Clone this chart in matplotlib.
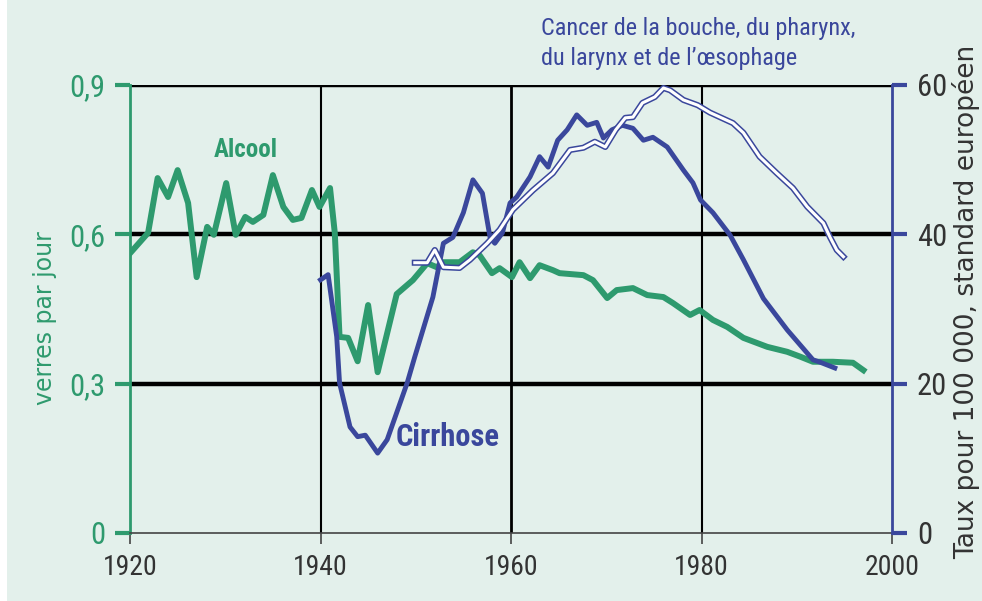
import matplotlib
matplotlib.use("Agg")
import matplotlib.pyplot as plt
from matplotlib.patches import Rectangle
from matplotlib import font_manager

# Alcool (verres par jour, axe gauche)
alcool_annees = [1920, 1921.9, 1922.9, 1924.0, 1925.0, 1926.1, 1927.0, 1928.1, 1928.8, 1930.1,
                 1931.1, 1932.1, 1932.9, 1934.0, 1935.0, 1936.1, 1937.1, 1938.0, 1939.1, 1939.9,
                 1941.0, 1941.5, 1942.0, 1942.9, 1943.9, 1945.0, 1946.0, 1948.0, 1949.7, 1951.2,
                 1952.2, 1952.9, 1954.6, 1956.0, 1956.7, 1958.0, 1958.8, 1960.1, 1960.9, 1962.0,
                 1963.0, 1964.4, 1965.1, 1967.6, 1968.6, 1970.1, 1971.1, 1972.8, 1974.3, 1976.0,
                 1977.0, 1978.8, 1979.8, 1981.2, 1982.7, 1984.4, 1986.9, 1989.0, 1990.4, 1991.7,
                 1993.8, 1995.9, 1997.0]
alcool_valeurs = [0.562, 0.603, 0.713, 0.675, 0.729, 0.663, 0.514, 0.615, 0.599, 0.703,
                  0.599, 0.635, 0.625, 0.639, 0.719, 0.655, 0.629, 0.633, 0.689, 0.655,
                  0.693, 0.603, 0.394, 0.392, 0.345, 0.458, 0.323, 0.480, 0.508, 0.542,
                  0.534, 0.544, 0.544, 0.564, 0.558, 0.522, 0.532, 0.514, 0.544, 0.512,
                  0.538, 0.528, 0.522, 0.518, 0.508, 0.472, 0.488, 0.492, 0.478, 0.474,
                  0.462, 0.438, 0.448, 0.428, 0.414, 0.392, 0.374, 0.364, 0.354, 0.344,
                  0.344, 0.342, 0.327]

# Cirrhose (taux pour 100 000, axe droit)
cirrhose_annees = [1940.0, 1940.8, 1941.7, 1942.0, 1943.1, 1943.9, 1944.7, 1946.0, 1947.0, 1949.1,
                   1949.9, 1951.8, 1952.9, 1953.9, 1955.0, 1956.0, 1957.0, 1957.8, 1958.3, 1959.1,
                   1959.9, 1960.6, 1962.0, 1963.0, 1963.9, 1964.9, 1965.9, 1966.9, 1968.0, 1969.0,
                   1969.7, 1970.6, 1971.7, 1972.8, 1973.9, 1974.9, 1976.4, 1978.1, 1979.1, 1979.9,
                   1981.2, 1983.0, 1984.4, 1986.5, 1989.0, 1991.7, 1992.4, 1994.0]
cirrhose_valeurs = [33.9, 34.6, 26.3, 20.1, 14.2, 12.9, 13.1, 10.7, 12.5, 20.1,
                    23.6, 31.6, 38.8, 39.6, 42.9, 47.3, 45.5, 39.6, 38.8, 40.2,
                    44.2, 45.0, 47.7, 50.4, 49.0, 52.6, 54.0, 56.0, 54.6, 55.0,
                    52.9, 54.0, 54.6, 54.2, 52.6, 53.0, 51.7, 48.6, 46.9, 44.6,
                    42.9, 39.9, 36.6, 31.4, 27.2, 23.2, 22.9, 22.1]

# Cancer de la bouche, du pharynx, du larynx et de l'oesophage (axe droit)
cancer_annees = [1949.9, 1951.2, 1952.0, 1952.9, 1954.6, 1955.7, 1957.5, 1958.8, 1960.2, 1962.3,
                 1964.4, 1966.2, 1967.6, 1968.8, 1969.9, 1971.0, 1972.0, 1972.8, 1973.8, 1975.1,
                 1976.0, 1976.7, 1978.1, 1979.6, 1980.9, 1983.3, 1984.4, 1986.1, 1987.9, 1989.6,
                 1991.1, 1992.8, 1993.5, 1994.2, 1994.9]
cancer_valeurs = [36.2, 36.2, 37.9, 35.6, 35.5, 36.6, 38.8, 40.6, 43.3, 45.9,
                  48.2, 51.3, 51.6, 52.4, 51.7, 54.0, 55.6, 55.7, 57.6, 58.4,
                  59.6, 59.3, 58.0, 57.3, 56.3, 54.9, 53.6, 50.4, 48.2, 46.2,
                  43.7, 41.5, 39.6, 37.9, 37.0]

gauche_ticks = [0, 0.3, 0.6, 0.9]
gauche_labels = ["0", "0,3", "0,6", "0,9"]
droite_ticks = [0, 20, 40, 60]
annees_ticks = [1920, 1940, 1960, 1980, 2000]

fond = "#e3f0eb"
vert = "#2e9a6e"
bleu = "#3a479c"
gris = "#333333"

# police etroite si disponible
noms = {f.name for f in font_manager.fontManager.ttflist}
etroite = None
for nom in ["Liberation Sans Narrow", "DejaVu Sans Condensed", "Roboto Condensed",
            "Open Sans Condensed", "Noto Sans Condensed"]:
    if nom in noms:
        etroite = nom
        break
if etroite is None:
    etroite = "Liberation Sans"
plt.rcParams["font.family"] = [etroite, "DejaVu Sans"]
plt.rcParams["font.stretch"] = "condensed"

fig = plt.figure(figsize=(9.82, 6.01), dpi=100, facecolor=fond)
fig.patches.append(Rectangle((0, 0), 7 / 982, 1, transform=fig.transFigure,
                             facecolor="white", edgecolor="none", zorder=-1))
ax = fig.add_axes([130 / 982, 1 - 533 / 601, 762 / 982, 448 / 601])
ax.set_facecolor(fond)
ax2 = ax.twinx()

ax.set_xlim(1920, 2000)
ax.set_ylim(0, 0.9)
ax2.set_ylim(0, 60)

for y in [0.3, 0.6, 0.9]:
    ax.axhline(y, color="black", lw=3.2, zorder=1)
for x in [1940, 1960, 1980]:
    ax.axvline(x, color="black", lw=1.5 if x != 1960 else 2, zorder=1)

ax.plot(alcool_annees, alcool_valeurs, color=vert, lw=4.3, zorder=3)
ax2.plot(cirrhose_annees, cirrhose_valeurs, color=bleu, lw=3.5, zorder=3)
ax2.plot(cancer_annees, cancer_valeurs, color=bleu, lw=4.4, zorder=4)
ax2.plot(cancer_annees, cancer_valeurs, color="white", lw=2.2, zorder=5)

for a in (ax, ax2):
    a.spines["top"].set_visible(False)
ax.spines["left"].set_color(vert)
ax.spines["left"].set_linewidth(2)
ax.spines["right"].set_visible(False)
ax.spines["bottom"].set_color("#444444")
ax.spines["bottom"].set_linewidth(1.2)
ax2.spines["left"].set_visible(False)
ax2.spines["bottom"].set_visible(False)
ax2.spines["right"].set_color(bleu)
ax2.spines["right"].set_linewidth(2)

ax.set_xticks(annees_ticks)
ax.set_xticklabels([str(a) for a in annees_ticks], fontsize=20, color=gris)
ax.tick_params(axis="x", length=8, width=1.2, color="#444444", pad=7)
ax.set_yticks(gauche_ticks)
ax.set_yticklabels(gauche_labels, fontsize=22, color=vert)
ax.tick_params(axis="y", length=11, width=3, color=vert, pad=7)
ax2.set_yticks(droite_ticks)
ax2.set_yticklabels([str(v) for v in droite_ticks], fontsize=22, color=gris)
ax2.tick_params(axis="y", length=11, width=3, color=bleu, pad=7)

fig.text(45 / 982, 1 - 318 / 601, "verres par jour", rotation=90, color=vert,
         fontsize=17, ha="center", va="center", family=["DejaVu Sans"], stretch="normal")
fig.text(966 / 982, 1 - 302 / 601, "Taux pour 100 000, standard européen", rotation=90,
         color=gris, fontsize=19, ha="center", va="center", family=["DejaVu Sans"],
         stretch="normal")

ax.text(1932.1, 0.769, "Alcool", color=vert, fontsize=18, fontweight="bold",
        ha="center", va="center")
ax2.text(1947.9, 12.9, "Cirrhose", color=bleu, fontsize=22, fontweight="bold",
         ha="left", va="center")
fig.text(541 / 982, 1 - 17 / 601, "Cancer de la bouche, du pharynx,\ndu larynx et de l\u2019\u0153sophage",
         color=bleu, fontsize=17.5, ha="left", va="top", linespacing=1.4)

fig.savefig("out.png", dpi=100, facecolor=fond)
